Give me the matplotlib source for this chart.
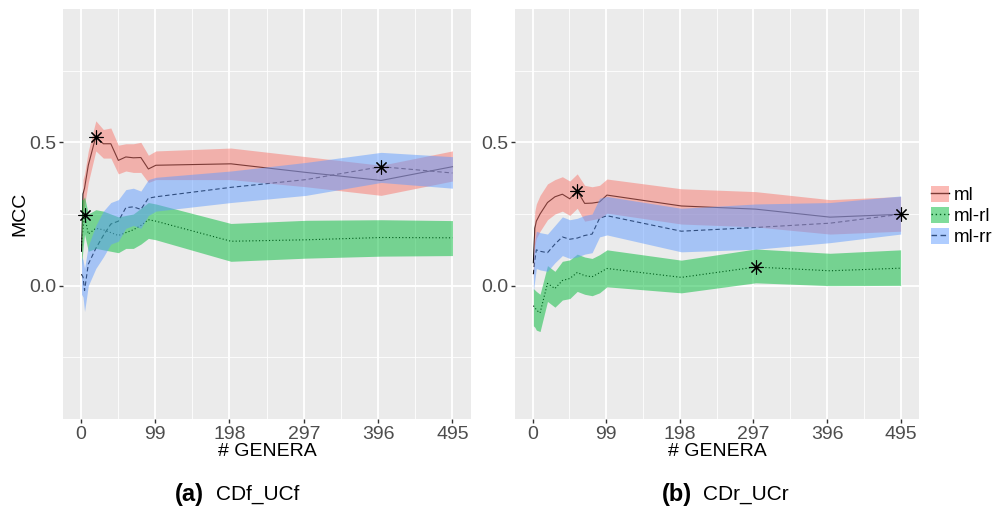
import numpy as np
import matplotlib
matplotlib.use("Agg")
import matplotlib.pyplot as plt
from matplotlib.lines import Line2D
from matplotlib.patches import Patch
from matplotlib.legend_handler import HandlerTuple

plt.rcParams["font.family"] = ["Liberation Sans", "DejaVu Sans"]

# number of genera kept
genera = [1, 3, 5, 10, 20, 30, 40, 50, 60, 70, 80, 90, 100, 200, 300, 400, 495]

# (a) CDf_UCf : mean MCC and band limits
a_ml    = [0.12, 0.32, 0.34, 0.42, 0.52, 0.495, 0.495, 0.437, 0.449, 0.446, 0.447, 0.407, 0.42, 0.425, 0.395, 0.367, 0.415]
a_ml_lo = [0.08, 0.26, 0.28, 0.36, 0.47, 0.445, 0.445, 0.39, 0.40, 0.395, 0.395, 0.36, 0.37, 0.37, 0.345, 0.315, 0.365]
a_ml_hi = [0.17, 0.37, 0.39, 0.47, 0.575, 0.545, 0.55, 0.49, 0.495, 0.495, 0.50, 0.455, 0.47, 0.48, 0.45, 0.42, 0.47]

a_rl    = [0.14, 0.20, 0.245, 0.18, 0.20, 0.195, 0.185, 0.175, 0.185, 0.195, 0.21, 0.23, 0.225, 0.155, 0.16, 0.168, 0.167]
a_rl_lo = [0.07, 0.13, 0.18, 0.12, 0.13, 0.125, 0.12, 0.115, 0.13, 0.13, 0.145, 0.165, 0.16, 0.085, 0.096, 0.103, 0.105]
a_rl_hi = [0.30, 0.30, 0.31, 0.25, 0.265, 0.26, 0.25, 0.24, 0.245, 0.25, 0.27, 0.29, 0.285, 0.217, 0.228, 0.23, 0.227]

a_rr    = [0.04, 0.03, -0.017, 0.075, 0.13, 0.175, 0.215, 0.225, 0.272, 0.275, 0.266, 0.305, 0.31, 0.343, 0.37, 0.415, 0.393]
a_rr_lo = [-0.03, -0.04, -0.09, 0.0, 0.06, 0.10, 0.145, 0.155, 0.20, 0.21, 0.20, 0.245, 0.26, 0.29, 0.315, 0.36, 0.34]
a_rr_hi = [0.10, 0.09, 0.06, 0.14, 0.21, 0.26, 0.29, 0.30, 0.335, 0.34, 0.33, 0.37, 0.378, 0.40, 0.43, 0.465, 0.45]

# (b) CDr_UCr
b_ml    = [0.08, 0.20, 0.225, 0.25, 0.29, 0.31, 0.319, 0.303, 0.331, 0.287, 0.288, 0.292, 0.316, 0.278, 0.267, 0.239, 0.249]
b_ml_lo = [0.02, 0.14, 0.165, 0.19, 0.23, 0.25, 0.26, 0.245, 0.27, 0.225, 0.23, 0.235, 0.253, 0.215, 0.205, 0.18, 0.19]
b_ml_hi = [0.15, 0.26, 0.285, 0.315, 0.355, 0.37, 0.38, 0.365, 0.39, 0.35, 0.345, 0.35, 0.372, 0.338, 0.328, 0.30, 0.311]

b_rl    = [-0.07, -0.075, -0.085, -0.095, 0.008, -0.01, 0.018, 0.025, 0.046, 0.035, 0.031, 0.045, 0.06, 0.029, 0.065, 0.052, 0.061]
b_rl_lo = [-0.14, -0.145, -0.155, -0.16, -0.055, -0.075, -0.05, -0.045, -0.02, -0.03, -0.035, -0.025, -0.004, -0.025, 0.01, 0.0, 0.001]
b_rl_hi = [-0.01, -0.015, -0.02, -0.03, 0.07, 0.05, 0.085, 0.09, 0.11, 0.10, 0.095, 0.108, 0.125, 0.089, 0.128, 0.113, 0.125]

b_rr    = [0.04, 0.09, 0.125, 0.12, 0.115, 0.145, 0.17, 0.162, 0.166, 0.175, 0.18, 0.235, 0.244, 0.19, 0.203, 0.218, 0.249]
b_rr_lo = [-0.02, 0.02, 0.06, 0.055, 0.05, 0.08, 0.105, 0.095, 0.10, 0.11, 0.115, 0.17, 0.177, 0.118, 0.127, 0.15, 0.18]
b_rr_hi = [0.10, 0.16, 0.19, 0.185, 0.18, 0.21, 0.24, 0.23, 0.235, 0.245, 0.25, 0.305, 0.311, 0.27, 0.285, 0.29, 0.313]

names   = ["ml", "ml-rl", "ml-rr"]
colors  = ["#F8766D", "#00BA38", "#619CFF"]
styles  = ["-", (0, (1, 2)), (0, (4, 2.5))]
x_ticks = [0, 99, 198, 297, 396, 495]

panels = [
    ([a_ml, a_rl, a_rr], [a_ml_lo, a_rl_lo, a_rr_lo], [a_ml_hi, a_rl_hi, a_rr_hi]),
    ([b_ml, b_rl, b_rr], [b_ml_lo, b_rl_lo, b_rr_lo], [b_ml_hi, b_rl_hi, b_rr_hi]),
]

W, H = 997, 514
fig = plt.figure(figsize=(W / 100, H / 100), dpi=100)
ax_a = fig.add_axes([63 / W, 95 / H, 408 / W, 410 / H])
ax_b = fig.add_axes([515 / W, 95 / H, 404 / W, 410 / H])

x = np.array(genera)
for ax, (means, los, his) in zip([ax_a, ax_b], panels):
    ax.set_facecolor("#EBEBEB")
    for s in ax.spines.values():
        s.set_visible(False)
    ax.set_xlim(-23.7, 519.7)
    ax.set_ylim(-0.465, 0.965)
    ax.set_xticks(x_ticks)
    ax.set_xticks([49.5, 148.5, 247.5, 346.5, 445.5], minor=True)
    ax.set_yticks([0.0, 0.5])
    ax.set_yticks([-0.25, 0.25, 0.75], minor=True)
    ax.set_yticklabels(["0.0", "0.5"])
    ax.grid(which="major", color="white", linewidth=1.3)
    ax.grid(which="minor", color="white", linewidth=0.6)
    ax.set_axisbelow(True)
    ax.tick_params(which="major", length=3, width=1, color="#333333",
                   labelsize=14, labelcolor="#4D4D4D", pad=2)
    ax.tick_params(which="minor", length=0)

    # black lines first, translucent ribbons over them, asterisk at each maximum
    for m, st in zip(means, styles):
        ax.plot(x, m, color="black", linestyle=st, linewidth=0.8, zorder=2)
    for lo, hi, c in zip(los, his, colors):
        ax.fill_between(x, lo, hi, color=c, alpha=0.5, linewidth=0, zorder=3)
    for m in means:
        i = int(np.argmax(m))
        ax.plot(x[i], m[i], marker=(8, 2, 0), markersize=10, mew=0.8,
                color="black", zorder=4)

    ax.set_xlabel("# GENERA", fontsize=14, color="black", labelpad=0)

ax_a.set_ylabel("MCC", fontsize=14, color="black", labelpad=0.5)

handles = []
for c, st in zip(colors, styles):
    ln = Line2D([], [], color="black", linestyle=st, linewidth=1.0)
    pt = Patch(facecolor=c, alpha=0.5, edgecolor="none")
    handles.append((ln, pt))
fig.legend(handles, names, handler_map={tuple: HandlerTuple(ndivide=1, pad=0)},
           loc="center left", bbox_to_anchor=(931 / W, 1 - 216 / H), frameon=False,
           fontsize=13.5, handlelength=0.98, handleheight=0.95, handletextpad=0.25,
           labelspacing=0.12, borderaxespad=0, borderpad=0)

# sub-captions under each panel
fig.text(175 / W, 1 - 494 / H, "(a)", fontsize=17, fontweight="bold", va="center")
fig.text(216 / W, 1 - 494 / H, "CDf_UCf", fontsize=15, va="center")
fig.text(662 / W, 1 - 494 / H, "(b)", fontsize=17, fontweight="bold", va="center")
fig.text(703 / W, 1 - 494 / H, "CDr_UCr", fontsize=15, va="center")

fig.savefig("out.png", dpi=100, facecolor="white")
